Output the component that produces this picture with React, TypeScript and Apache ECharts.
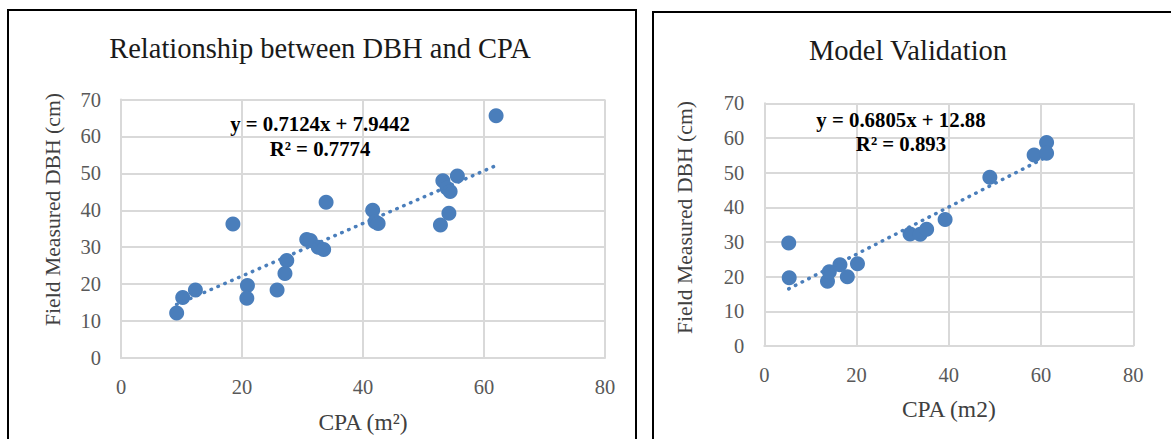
import React, { useEffect, useRef } from "react";
import * as echarts from "echarts";

// Calibration data (left chart)
const cpaCal = [62.0, 55.6, 53.2, 53.9, 54.4, 54.2, 52.8, 41.6, 42.0, 42.5, 33.9, 18.5, 30.7, 31.3, 32.6, 33.5, 27.4, 27.1, 25.8, 20.9, 20.8, 12.3, 10.2, 9.2];
const dbhCal = [65.6, 49.3, 48.0, 46.0, 45.1, 39.2, 36.0, 40.0, 36.9, 36.4, 42.2, 36.3, 32.1, 31.8, 30.0, 29.4, 26.4, 22.9, 18.4, 19.6, 16.2, 18.4, 16.4, 12.2];
const slopeCal = 0.7124;
const interceptCal = 7.9442;
const r2Cal = "0.7774";

// Validation data (right chart)
const cpaVal = [5.3, 5.4, 13.7, 14.1, 16.4, 18.0, 20.2, 31.6, 33.8, 35.2, 39.2, 48.9, 58.5, 61.2, 61.2];
const dbhVal = [29.7, 19.7, 18.7, 21.4, 23.4, 20.0, 23.7, 32.3, 32.2, 33.7, 36.5, 48.7, 55.1, 58.7, 55.6];
const slopeVal = 0.6805;
const interceptVal = 12.88;
const r2Val = "0.893";

const titleCal = "Relationship between DBH and CPA";
const titleVal = "Model Validation";
const xNameCal = "CPA (m²)";
const xNameVal = "CPA (m2)";
const yName = "Field Measured DBH (cm)";

const FONT = "'Liberation Serif', 'Times New Roman', serif";
const BLUE = "#4A7EBB";
const GRID = "#D9D9D9";
const TICK = "#595959";

function trend(xs: number[], a: number, b: number) {
  const lo = Math.min(...xs);
  const hi = Math.max(...xs);
  return [
    [lo, a * lo + b],
    [hi, a * hi + b],
  ];
}

function xAxis(gridIndex: number, name: string, gap: number) {
  return {
    type: "value",
    gridIndex,
    min: 0,
    max: 80,
    interval: 20,
    name,
    nameLocation: "middle",
    nameGap: gap,
    nameTextStyle: { fontFamily: FONT, fontSize: 23.5, color: "#404040" },
    axisLine: { show: true, lineStyle: { color: GRID, width: 2 } },
    axisTick: { show: false },
    axisLabel: { fontFamily: FONT, fontSize: 20.5, color: TICK, margin: 18 },
    splitLine: { show: true, lineStyle: { color: GRID, width: 2 } },
  };
}

function yAxis(gridIndex: number) {
  return {
    type: "value",
    gridIndex,
    min: 0,
    max: 70,
    interval: 10,
    axisLine: { show: true, lineStyle: { color: GRID, width: 2 } },
    axisTick: { show: false },
    axisLabel: { fontFamily: FONT, fontSize: 20.5, color: TICK, margin: 20 },
    splitLine: { show: true, lineStyle: { color: GRID, width: 2 } },
  };
}

export default function App() {
  const ref = useRef<HTMLDivElement>(null);

  useEffect(() => {
    document.body.style.margin = "0";
    if (!ref.current) return;
    const chart = echarts.init(ref.current, undefined, { renderer: "svg" });

    const calPts = cpaCal.map((x, i) => [x, dbhCal[i]]);
    const valPts = cpaVal.map((x, i) => [x, dbhVal[i]]);

    const eqStyle = {
      fontFamily: FONT,
      fontSize: 20.8,
      fontWeight: "bold",
      fill: "#000",
      textAlign: "center",
      textVerticalAlign: "middle",
    };
    const yNameStyle = {
      text: yName,
      fontFamily: FONT,
      fontSize: 21.7,
      fill: "#404040",
      textAlign: "center",
      textVerticalAlign: "middle",
    };

    chart.setOption({
      animation: false,
      backgroundColor: "#fff",
      grid: [
        { left: 121, top: 99.5, width: 484, height: 262.3, show: false },
        { left: 764.3, top: 103.3, width: 369, height: 242.7, show: false },
      ],
      xAxis: [xAxis(0, xNameCal, 52), xAxis(1, xNameVal, 51)],
      yAxis: [yAxis(0), yAxis(1)],
      series: [
        {
          type: "scatter",
          xAxisIndex: 0,
          yAxisIndex: 0,
          data: calPts,
          symbolSize: 15,
          itemStyle: { color: BLUE, opacity: 1 },
          z: 2,
        },
        {
          type: "line",
          xAxisIndex: 0,
          yAxisIndex: 0,
          data: trend(cpaCal, slopeCal, interceptCal),
          symbol: "none",
          lineStyle: { color: BLUE, width: 3.5, type: [0.5, 7], cap: "round" },
          z: 3,
        },
        {
          type: "scatter",
          xAxisIndex: 1,
          yAxisIndex: 1,
          data: valPts,
          symbolSize: 15,
          itemStyle: { color: BLUE, opacity: 1 },
          z: 2,
        },
        {
          type: "line",
          xAxisIndex: 1,
          yAxisIndex: 1,
          data: trend(cpaVal, slopeVal, interceptVal),
          symbol: "none",
          lineStyle: { color: BLUE, width: 3.5, type: [0.5, 7], cap: "round" },
          z: 3,
        },
      ],
      graphic: [
        {
          type: "rect",
          shape: { x: 8, y: 10, width: 628, height: 440 },
          style: { fill: "none", stroke: "#000", lineWidth: 2 },
          z: 10,
        },
        {
          type: "rect",
          shape: { x: 653, y: 12, width: 540, height: 440 },
          style: { fill: "none", stroke: "#000", lineWidth: 2 },
          z: 10,
        },
        {
          type: "text",
          x: 320,
          y: 48,
          style: {
            text: titleCal,
            fontFamily: FONT,
            fontSize: 28.5,
            fill: "#1a1a1a",
            textAlign: "center",
            textVerticalAlign: "middle",
          },
        },
        {
          type: "text",
          x: 908,
          y: 50,
          style: {
            text: titleVal,
            fontFamily: FONT,
            fontSize: 28.5,
            fill: "#1a1a1a",
            textAlign: "center",
            textVerticalAlign: "middle",
          },
        },
        {
          type: "text",
          x: 53,
          y: 209.5,
          rotation: Math.PI / 2,
          style: yNameStyle,
        },
        {
          type: "text",
          x: 685,
          y: 217.5,
          rotation: Math.PI / 2,
          style: yNameStyle,
        },
        {
          type: "text",
          x: 320,
          y: 123,
          z: 20,
          style: { ...eqStyle, text: `y = ${slopeCal}x + ${interceptCal}` },
        },
        {
          type: "text",
          x: 320,
          y: 148,
          z: 20,
          style: { ...eqStyle, text: `R² = ${r2Cal}` },
        },
        {
          type: "text",
          x: 901,
          y: 119.5,
          z: 20,
          style: { ...eqStyle, text: `y = ${slopeVal}x + ${interceptVal}` },
        },
        {
          type: "text",
          x: 901,
          y: 143.5,
          z: 20,
          style: { ...eqStyle, text: `R² = ${r2Val}` },
        },
      ],
    });

    return () => chart.dispose();
  }, []);

  return <div ref={ref} style={{ width: 1171, height: 439 }} />;
}
